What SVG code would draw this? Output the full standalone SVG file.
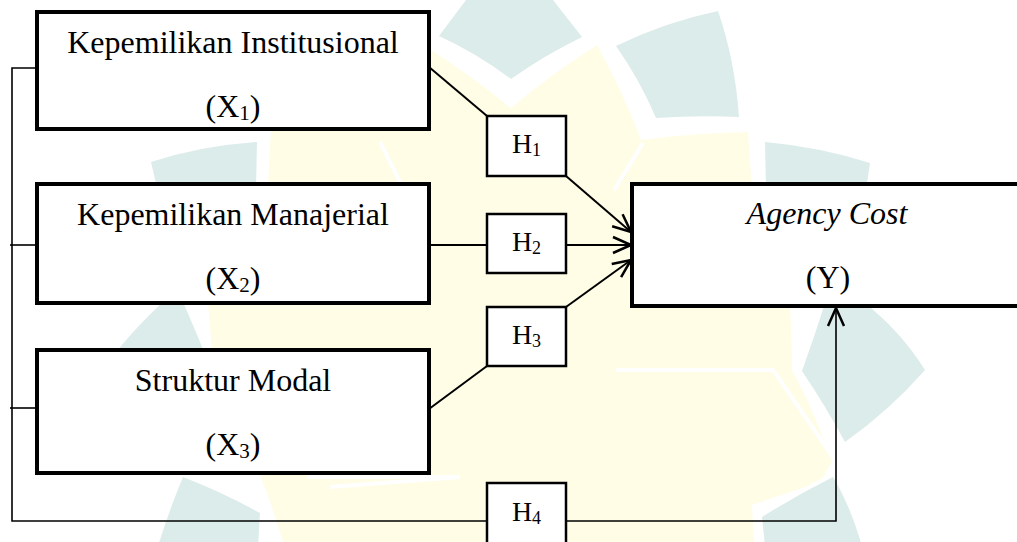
<svg xmlns="http://www.w3.org/2000/svg" width="1017" height="542" viewBox="0 0 1017 542">
  <style>
    .bg { fill: #ffffff; }
    .teal { fill: #dcecea; stroke: #ffffff; stroke-width: 8; paint-order: stroke; stroke-linejoin: round; }
    .yel { fill: #fffde6; }
    .gap { stroke: #ffffff; stroke-width: 4; fill: none; }
    .var { fill: #ffffff; stroke: #000000; stroke-width: 4; }
    .hyp { fill: #ffffff; stroke: #000000; stroke-width: 2.5; }
    .lbl { font-family: "Liberation Serif", "Times New Roman", serif; font-size: 32px; fill: #000000; text-anchor: middle; }
    .hl { font-family: "Liberation Serif", "Times New Roman", serif; font-size: 28px; fill: #000000; text-anchor: middle; }
    .conn { fill: none; stroke: #000000; stroke-width: 2; }
    .bus { fill: none; stroke: #000000; stroke-width: 1.6; }
  </style>
  <defs>
    <marker id="arr" markerUnits="userSpaceOnUse" markerWidth="24" markerHeight="20" viewBox="-20 -10 24 20" refX="0" refY="0" orient="auto">
      <path d="M-18,-8 L0,0 L-18,8" fill="none" stroke="#000000" stroke-width="2.5"/>
    </marker>
  </defs>

  <rect class="bg" x="0" y="0" width="1017" height="542"/>

  <g id="watermark">
    <path class="yel" d="M271,129 L300,95 L431,50 Q470,75 511,108 Q550,75 597,45 Q622,90 641,140 Q695,133 748,132 L752,190 L790,306 Q792,340 792,371 Q812,405 832,462 L820,482 L752,505 L754,542 L283,542 Q272,505 262,480 L212,352 L208,303 L268,186 Z"/>
    <path class="gap" d="M380,142 L404,190"/>
    <path class="gap" d="M643,143 L614,190"/>
    <path class="gap" d="M616,370 L773,370 L833,457"/>
    <path class="gap" d="M307,477 L460,477 L330,487"/>
    <path class="teal" d="M439,36 L466,0 L553,0 L582,37 Q545,55 511,79 Q478,54 439,36 Z"/>
    <path class="teal" d="M616,46 Q665,22 718,11 Q735,60 739,117 Q697,115 656,118 Q640,80 616,46 Z"/>
    <path class="teal" d="M765,142 Q820,147 870,163 L866,190 L766,190 Z"/>
    <path class="teal" d="M826,300 L861,300 Q900,330 925,370 Q890,410 845,442 Q825,405 802,371 Q815,335 826,300 Z"/>
    <path class="teal" d="M765,546 L762,517 Q797,495 833,477 Q850,505 862,546 Z"/>
    <path class="teal" d="M158,546 Q170,508 183,477 Q222,492 260,513 L258,546 Z"/>
    <path class="teal" d="M165,300 L182,300 Q192,322 204,352 L116,352 Q138,325 165,300 Z"/>
    <path class="teal" d="M151,162 Q200,146 257,142 L256,188 L157,188 Z"/>
  </g>

  <g id="connectors">
    <path class="bus" d="M37,68 L12,68 L12,521 L487,521"/>
    <path class="bus" d="M10,245 L37,245"/>
    <path class="bus" d="M10,408 L37,408"/>
    <path class="bus" d="M566,521 L836,521 L836,308" marker-end="url(#arr)"/>
    <path class="conn" d="M429,67 L487,116"/>
    <path class="conn" d="M566,176 L631,232" marker-end="url(#arr)"/>
    <path class="conn" d="M429,245 L487,245"/>
    <path class="conn" d="M566,245 L631,245" marker-end="url(#arr)"/>
    <path class="conn" d="M429,409 L487,366"/>
    <path class="conn" d="M566,307 L631,260" marker-end="url(#arr)"/>
  </g>

  <g id="x1">
    <rect class="var" x="37" y="12" width="392" height="117"/>
    <text class="lbl" x="233" y="53">Kepemilikan Institusional</text>
    <text class="lbl" x="233" y="117">(X<tspan font-size="21" dy="3">1</tspan><tspan dy="-3">)</tspan></text>
  </g>

  <g id="x2">
    <rect class="var" x="37" y="184" width="392" height="119"/>
    <text class="lbl" x="233" y="225">Kepemilikan Manajerial</text>
    <text class="lbl" x="233" y="289">(X<tspan font-size="21" dy="3">2</tspan><tspan dy="-3">)</tspan></text>
  </g>

  <g id="x3">
    <rect class="var" x="37" y="350" width="392" height="123"/>
    <text class="lbl" x="233" y="391">Struktur Modal</text>
    <text class="lbl" x="233" y="455">(X<tspan font-size="21" dy="3">3</tspan><tspan dy="-3">)</tspan></text>
  </g>

  <g id="y">
    <rect class="var" x="632" y="184" width="392" height="122"/>
    <text class="lbl" x="827" y="224" font-style="italic">Agency Cost</text>
    <text class="lbl" x="828" y="288">(Y)</text>
  </g>

  <g id="h1">
    <rect class="hyp" x="487" y="116" width="79" height="60"/>
    <text class="hl" x="526.5" y="153">H<tspan font-size="18" dy="3">1</tspan></text>
  </g>

  <g id="h2">
    <rect class="hyp" x="487" y="214" width="79" height="59"/>
    <text class="hl" x="526.5" y="251">H<tspan font-size="18" dy="3">2</tspan></text>
  </g>

  <g id="h3">
    <rect class="hyp" x="487" y="307" width="79" height="59"/>
    <text class="hl" x="526.5" y="344">H<tspan font-size="18" dy="3">3</tspan></text>
  </g>

  <g id="h4">
    <rect class="hyp" x="487" y="483" width="79" height="66"/>
    <text class="hl" x="526.5" y="521">H<tspan font-size="18" dy="3">4</tspan></text>
  </g>
</svg>
